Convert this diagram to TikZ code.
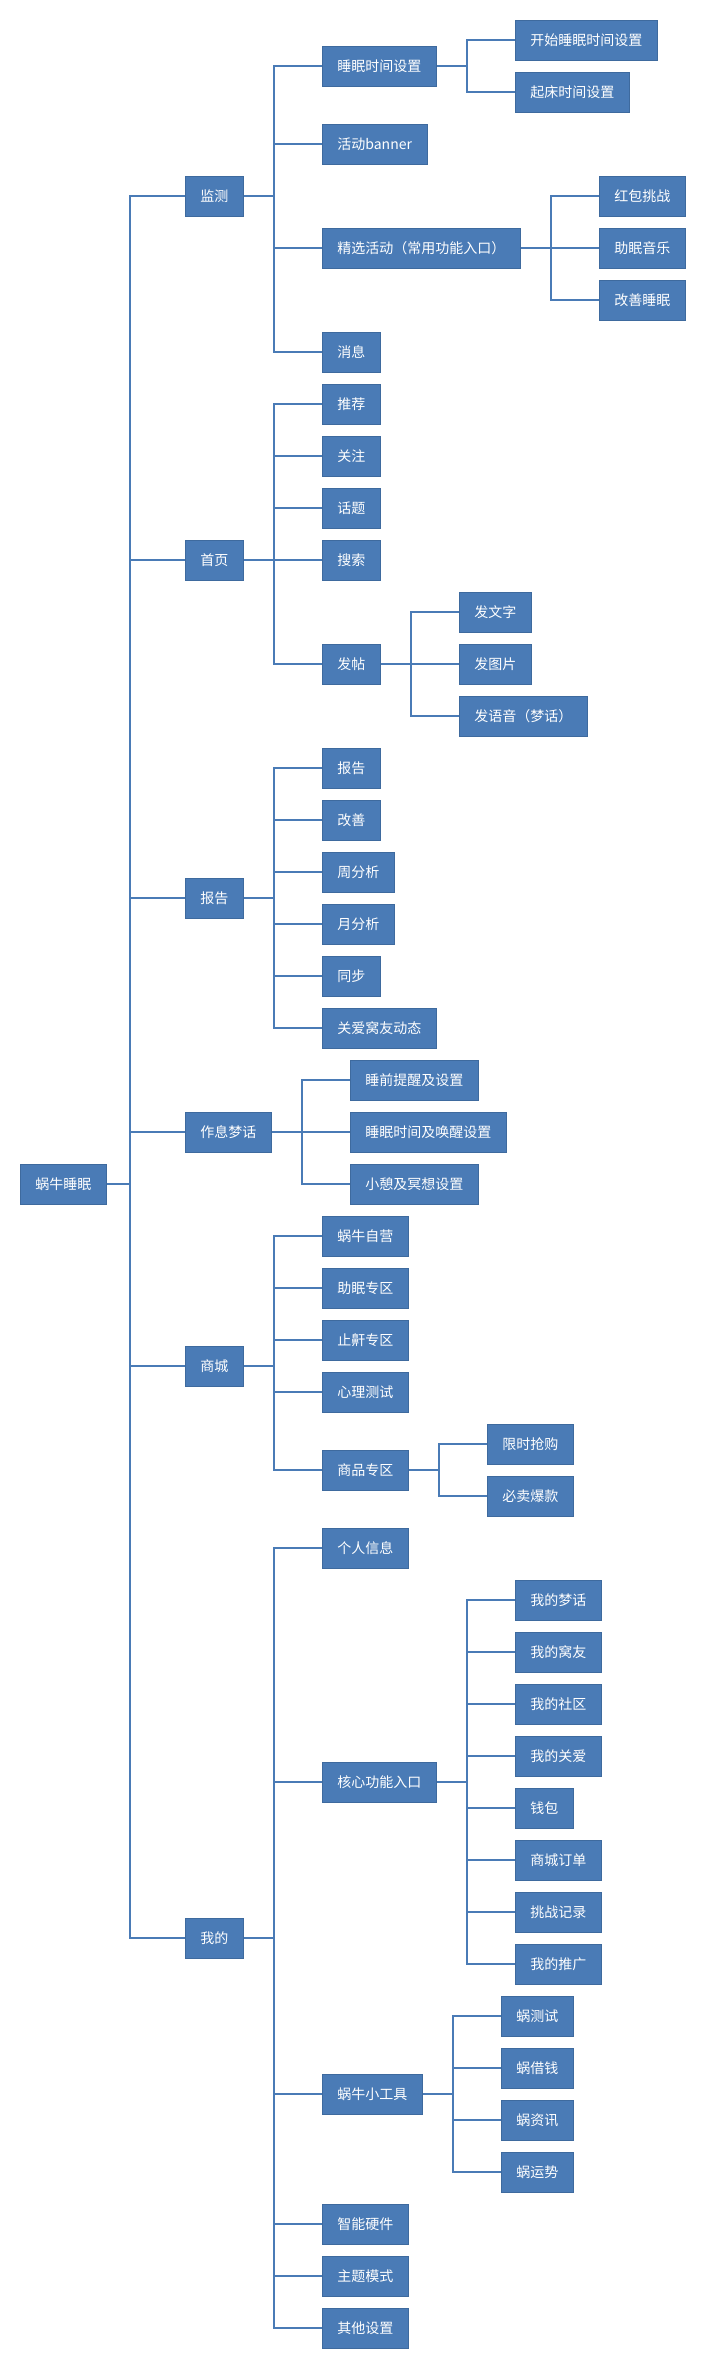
\documentclass[tikz,border=0pt]{standalone}
\usepackage{fontspec}
\newfontfamily\cjk{Noto Sans CJK SC}
\newcommand\boxfont{\cjk\fontsize{7pt}{8pt}\selectfont}
\definecolor{boxblue}{HTML}{4A7BB6}
\definecolor{boxline}{HTML}{3E6A9E}
\tikzset{
    box/.style={draw=boxline, fill=boxblue, text=white, font=\boxfont, inner xsep=7.5pt, inner ysep=0pt, minimum height=20pt, anchor=west},
    link/.style={draw=boxblue, line width=0.9pt}
}
\begin{document}
\begin{tikzpicture}[x=0.5pt, y=-0.5pt]
                \useasboundingbox (0,0) rectangle (702,2368);
                % root and first level
                \node [box] (root) at (20,1184) {蜗牛睡眠};
                \node [box] (jiance) at (185,196) {监测};
                \node [box] (shouye) at (185,560) {首页};
                \node [box] (baogao) at (185,898) {报告};
                \node [box] (zuoxi) at (185,1132) {作息梦话};
                \node [box] (shangcheng) at (185,1366) {商城};
                \node [box] (wode) at (185,1938) {我的};
                % 监测
                \node [box] (smsz) at (322,66) {睡眠时间设置};
                \node [box] (banner) at (322,144) {活动banner};
                \node [box] (jxhd) at (322,248) {精选活动（常用功能入口）};
                \node [box] (xiaoxi) at (322,352) {消息};
                \node [box] (kaishi) at (515,40) {开始睡眠时间设置};
                \node [box] (qichuang) at (515,92) {起床时间设置};
                \node [box] (hongbao) at (599,196) {红包挑战};
                \node [box] (yinyue) at (599,248) {助眠音乐};
                \node [box] (gssm) at (599,300) {改善睡眠};
                % 首页
                \node [box] (tuijian) at (322,404) {推荐};
                \node [box] (guanzhu) at (322,456) {关注};
                \node [box] (huati) at (322,508) {话题};
                \node [box] (sousuo) at (322,560) {搜索};
                \node [box] (fatie) at (322,664) {发帖};
                \node [box] (wenzi) at (459,612) {发文字};
                \node [box] (tupian) at (459,664) {发图片};
                \node [box] (yuyin) at (459,716) {发语音（梦话）};
                % 报告
                \node [box] (bgsub) at (322,768) {报告};
                \node [box] (gaishan) at (322,820) {改善};
                \node [box] (zhou) at (322,872) {周分析};
                \node [box] (yue) at (322,924) {月分析};
                \node [box] (tongbu) at (322,976) {同步};
                \node [box] (guanai) at (322,1028) {关爱窝友动态};
                % 作息梦话
                \node [box] (sqtx) at (350,1080) {睡前提醒及设置};
                \node [box] (smhx) at (350,1132) {睡眠时间及唤醒设置};
                \node [box] (xiaoqi) at (350,1184) {小憩及冥想设置};
                % 商城
                \node [box] (ziying) at (322,1236) {蜗牛自营};
                \node [box] (zhumian) at (322,1288) {助眠专区};
                \node [box] (zhihan) at (322,1340) {止鼾专区};
                \node [box] (xinli) at (322,1392) {心理测试};
                \node [box] (spzq) at (322,1470) {商品专区};
                \node [box] (xianshi) at (487,1444) {限时抢购};
                \node [box] (bimai) at (487,1496) {必卖爆款};
                % 我的
                \node [box] (grxx) at (322,1548) {个人信息};
                \node [box] (hexin) at (322,1782) {核心功能入口};
                \node [box] (gongju) at (322,2094) {蜗牛小工具};
                \node [box] (yingjian) at (322,2224) {智能硬件};
                \node [box] (zhuti) at (322,2276) {主题模式};
                \node [box] (qita) at (322,2328) {其他设置};
                \node [box] (menghua) at (515,1600) {我的梦话};
                \node [box] (woyou) at (515,1652) {我的窝友};
                \node [box] (shequ) at (515,1704) {我的社区};
                \node [box] (wdga) at (515,1756) {我的关爱};
                \node [box] (qianbao) at (515,1808) {钱包};
                \node [box] (dingdan) at (515,1860) {商城订单};
                \node [box] (tiaozhan) at (515,1912) {挑战记录};
                \node [box] (tuiguang) at (515,1964) {我的推广};
                \node [box] (ceshi) at (501,2016) {蜗测试};
                \node [box] (jieqian) at (501,2068) {蜗借钱};
                \node [box] (zixun) at (501,2120) {蜗资讯};
                \node [box] (yunshi) at (501,2172) {蜗运势};
                % connectors
                \foreach \c in {jiance,shouye,baogao,zuoxi,shangcheng,wode}
                    \draw [link] (root.east) -- ++(23,0) |- (\c.west);
                \foreach \c in {smsz,banner,jxhd,xiaoxi}
                    \draw [link] (jiance.east) -- ++(30,0) |- (\c.west);
                \foreach \c in {kaishi,qichuang}
                    \draw [link] (smsz.east) -- ++(30,0) |- (\c.west);
                \foreach \c in {hongbao,yinyue,gssm}
                    \draw [link] (jxhd.east) -- ++(30,0) |- (\c.west);
                \foreach \c in {tuijian,guanzhu,huati,sousuo,fatie}
                    \draw [link] (shouye.east) -- ++(30,0) |- (\c.west);
                \foreach \c in {wenzi,tupian,yuyin}
                    \draw [link] (fatie.east) -- ++(30,0) |- (\c.west);
                \foreach \c in {bgsub,gaishan,zhou,yue,tongbu,guanai}
                    \draw [link] (baogao.east) -- ++(30,0) |- (\c.west);
                \foreach \c in {sqtx,smhx,xiaoqi}
                    \draw [link] (zuoxi.east) -- ++(30,0) |- (\c.west);
                \foreach \c in {ziying,zhumian,zhihan,xinli,spzq}
                    \draw [link] (shangcheng.east) -- ++(30,0) |- (\c.west);
                \foreach \c in {xianshi,bimai}
                    \draw [link] (spzq.east) -- ++(30,0) |- (\c.west);
                \foreach \c in {grxx,hexin,gongju,yingjian,zhuti,qita}
                    \draw [link] (wode.east) -- ++(30,0) |- (\c.west);
                \foreach \c in {menghua,woyou,shequ,wdga,qianbao,dingdan,tiaozhan,tuiguang}
                    \draw [link] (hexin.east) -- ++(30,0) |- (\c.west);
                \foreach \c in {ceshi,jieqian,zixun,yunshi}
                    \draw [link] (gongju.east) -- ++(30,0) |- (\c.west);
            \end{tikzpicture}
\end{document}
